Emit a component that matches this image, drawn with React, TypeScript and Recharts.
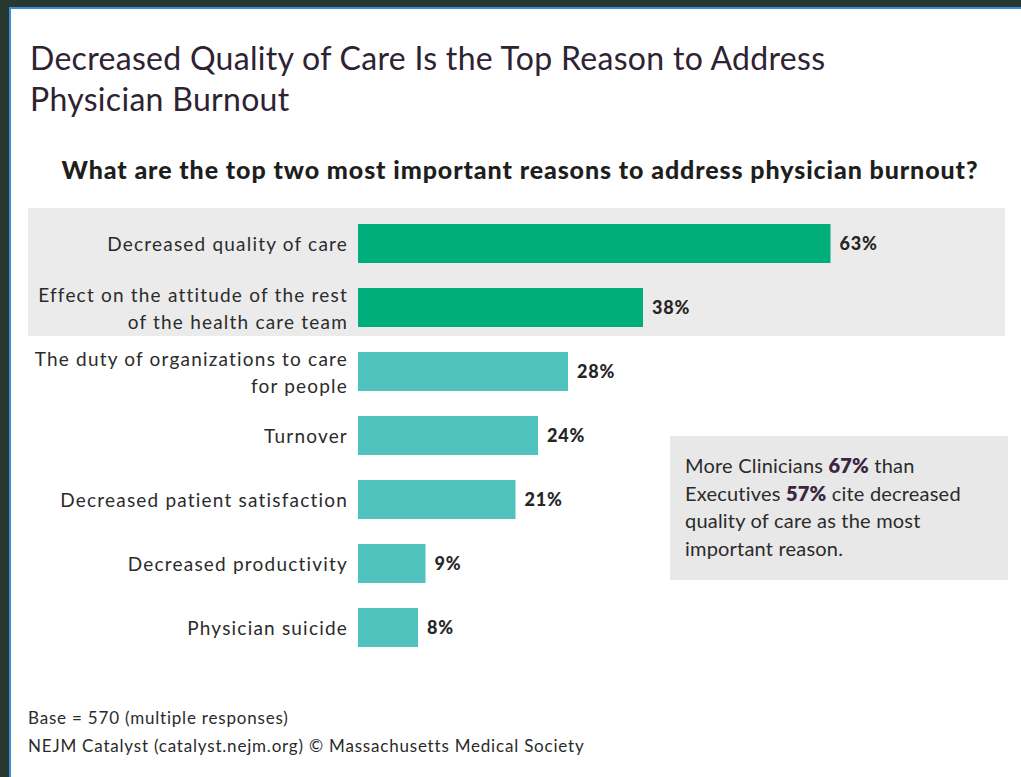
import React from "react";
import {
  Bar,
  BarChart,
  Cell,
  LabelList,
  ReferenceArea,
  XAxis,
  YAxis,
} from "recharts";

const reasons = [
  "Decreased quality of care",
  "Effect on the attitude of the rest of the health care team",
  "The duty of organizations to care for people",
  "Turnover",
  "Decreased patient satisfaction",
  "Decreased productivity",
  "Physician suicide",
];
const shares = [63, 38, 28, 24, 21, 9, 8];
// the two answers called out in the grey band
const topReasons = [
  "Decreased quality of care",
  "Effect on the attitude of the rest of the health care team",
];

const data = reasons.map((name, i) => ({ name, value: shares[i] }));

const FONT = "Lato, 'Open Sans', sans-serif";
const GREEN = "#00ae7b";
const TEAL = "#50c2be";

function wrap(text: string, max = 34) {
  const lines: string[] = [];
  let cur = "";
  for (const w of text.split(" ")) {
    const next = cur ? cur + " " + w : w;
    if (next.length > max && cur) {
      lines.push(cur);
      cur = w;
    } else cur = next;
  }
  if (cur) lines.push(cur);
  return lines;
}

function ReasonTick(props: any) {
  const { x, y, payload } = props;
  const lines = wrap(payload.value);
  const lh = 27;
  const start = y - ((lines.length - 1) * lh) / 2;
  const tx = x - 2;
  return (
    <text
      x={tx}
      y={start}
      textAnchor="end"
      dominantBaseline="central"
      fill="#2b2b2b"
      fontSize={19}
      letterSpacing={1.2}
      fontFamily={FONT}
    >
      {lines.map((l, i) => (
        <tspan key={i} x={tx} y={start + i * lh}>
          {l}
        </tspan>
      ))}
    </text>
  );
}

function Band(props: any) {
  return (
    <rect x={28} y={props.y - 3} width={977} height={props.height} fill="#ebebeb" />
  );
}

export default function App() {
  const bold = { color: "#3a2640", fontWeight: 800 };
  return (
    <div
      style={{
        position: "absolute",
        left: 0,
        top: 0,
        width: 1021,
        height: 777,
        background: "#fff",
        overflow: "hidden",
        fontFamily: FONT,
      }}
    >
      <div style={{ position: "absolute", left: 0, top: 0, width: 1021, height: 7, background: "#26382f" }} />
      <div style={{ position: "absolute", left: 0, top: 0, width: 9, height: 777, background: "#26382f" }} />
      <div style={{ position: "absolute", left: 9, top: 7, width: 1012, height: 2, background: "#3b8fd6" }} />
      <div style={{ position: "absolute", left: 9, top: 7, width: 2, height: 770, background: "#3b8fd6" }} />

      <div
        style={{
          position: "absolute",
          left: 30,
          top: 37,
          fontSize: 32,
          lineHeight: "41px",
          color: "#2e2233",
          letterSpacing: 0.3,
          whiteSpace: "nowrap",
        }}
      >
        Decreased Quality of Care Is the Top Reason to Address
        <br />
        Physician Burnout
      </div>

      <div
        style={{
          position: "absolute",
          left: 0,
          width: 1040,
          top: 154,
          textAlign: "center",
          fontSize: 25,
          fontWeight: 900,
          letterSpacing: 0.9,
          color: "#1e1e1e",
          whiteSpace: "nowrap",
        }}
      >
        What are the top two most important reasons to address physician burnout?
      </div>

      <div style={{ position: "absolute", left: 0, top: 0 }}>
        <BarChart
          width={1021}
          height={777}
          layout="vertical"
          data={data}
          margin={{ top: 211, right: 63, bottom: 118, left: 0 }}
          barCategoryGap={0}
        >
          <XAxis type="number" domain={[0, 80]} hide />
          <YAxis
            type="category"
            dataKey="name"
            width={358}
            axisLine={false}
            tickLine={false}
            tick={<ReasonTick />}
            interval={0}
          />
          <ReferenceArea
            y1={topReasons[0]}
            y2={topReasons[topReasons.length - 1]}
            ifOverflow="visible"
            shape={<Band />}
          />
          <Bar dataKey="value" barSize={39} isAnimationActive={false}>
            {data.map((d) => (
              <Cell key={d.name} fill={topReasons.includes(d.name) ? GREEN : TEAL} />
            ))}
            <LabelList
              dataKey="value"
              position="right"
              offset={9}
              formatter={(v: any) => `${v}%`}
              fill="#262626"
              fontSize={18}
              fontWeight={900}
              letterSpacing={0.8}
              fontFamily={FONT}
            />
          </Bar>
        </BarChart>
      </div>

      <div
        style={{
          position: "absolute",
          left: 670,
          top: 436,
          width: 338,
          height: 144,
          background: "#e8e8e8",
          boxSizing: "border-box",
          padding: "16px 0 0 15px",
          fontSize: 20,
          lineHeight: "27.5px",
          letterSpacing: 0.2,
          color: "#2b2b2b",
          whiteSpace: "nowrap",
        }}
      >
        More Clinicians <span style={bold}>67%</span> than
        <br />
        Executives <span style={bold}>57%</span> cite decreased
        <br />
        quality of care as the most
        <br />
        important reason.
      </div>

      <div
        style={{
          position: "absolute",
          left: 28,
          top: 707,
          fontSize: 17,
          letterSpacing: 0.8,
          color: "#2b2b2b",
          whiteSpace: "nowrap",
        }}
      >
        Base = 570 (multiple responses)
      </div>
      <div
        style={{
          position: "absolute",
          left: 28,
          top: 735,
          fontSize: 17,
          letterSpacing: 0.8,
          color: "#2b2b2b",
          whiteSpace: "nowrap",
        }}
      >
        NEJM Catalyst (catalyst.nejm.org) © Massachusetts Medical Society
      </div>
    </div>
  );
}
